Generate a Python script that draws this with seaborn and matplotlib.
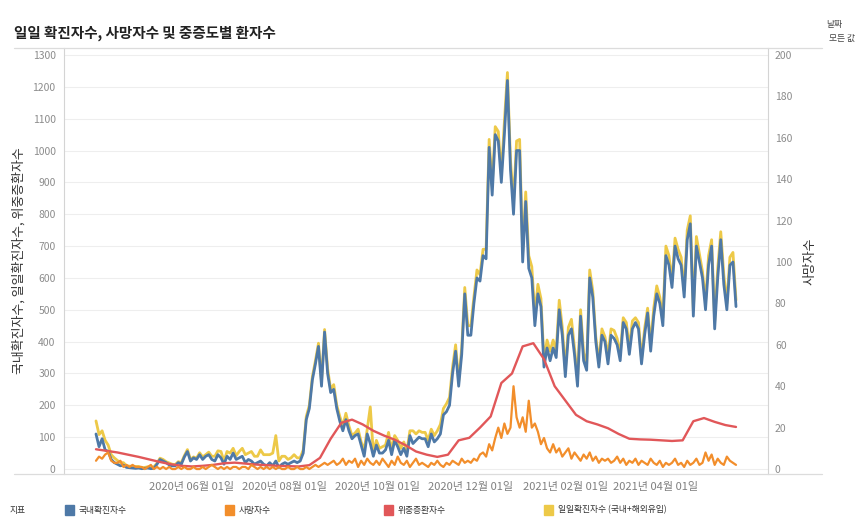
import numpy as np
import pandas as pd
import matplotlib
matplotlib.use("Agg")
import matplotlib.pyplot as plt
from matplotlib.patches import Rectangle
from matplotlib.lines import Line2D
import seaborn as sns

# every second day, 2020-03-30 .. 2021-05-24
domestic = [
    110, 70, 95, 60, 55, 30, 20, 15, 10, 12, 5, 4, 3, 2, 3, 1,               # 2020-04
    2, 3, 1, 2, 15, 30, 25, 20, 13, 10, 10, 20, 15, 38, 55, 25,              # 2020-05
    35, 30, 45, 30, 40, 45, 30, 25, 45, 35, 15, 40, 30, 50, 30,              # 2020-06
    35, 40, 20, 30, 25, 15, 20, 25, 15, 10, 20, 10, 25, 5, 15,               # 2020-07
    20, 15, 20, 25, 20, 25, 50, 155, 190, 280, 330, 385, 260, 430, 300, 240,  # 2020-08
    250, 190, 150, 120, 155, 120, 95, 105, 110, 75, 40, 110, 80, 40, 75,     # 2020-09
    50, 50, 60, 90, 45, 90, 70, 45, 65, 40, 105, 80, 90, 100, 95,            # 2020-10
    95, 70, 110, 85, 95, 110, 170, 180, 200, 300, 370, 260, 360, 550, 420,   # 2020-11
    420, 520, 600, 590, 670, 660, 1010, 860, 1050, 1030, 900, 1050, 1220, 940, 800, 1000,  # 2020-12
    1000, 650, 840, 630, 600, 450, 550, 510, 320, 380, 340, 380, 350, 500, 420,  # 2021-01
    290, 420, 440, 360, 260, 480, 340, 310, 600, 540, 400, 320, 420, 400,    # 2021-02
    330, 420, 410, 390, 340, 460, 440, 360, 440, 460, 440, 330, 420, 490, 370, 480,  # 2021-03
    550, 520, 450, 670, 640, 570, 700, 660, 640, 540, 720, 770, 480, 700, 650,  # 2021-04
    600, 500, 640, 700, 440, 600, 720, 580, 500, 640, 650, 510,              # 2021-05
]
imported = [
    41, 38, 25, 30, 20, 15, 15, 12, 10, 8, 5, 5, 5, 6, 5, 3,
    3, 4, 3, 5, 3, 4, 5, 3, 6, 5, 4, 3, 5, 4, 6, 5,
    3, 4, 6, 8, 5, 8, 10, 15, 12, 20, 10, 15, 20, 15, 12,
    20, 25, 25, 20, 30, 25, 20, 35, 30, 35, 25, 40, 80, 20, 25,
    20, 15, 15, 20, 15, 10, 10, 10, 10, 10, 10, 10, 15, 8, 15, 10,
    15, 10, 15, 15, 20, 15, 10, 8, 15, 10, 20, 15, 115, 10, 15,
    15, 20, 15, 25, 15, 15, 20, 20, 20, 15, 15, 40, 20, 20, 20,
    20, 20, 15, 20, 25, 30, 20, 25, 25, 20, 20, 15, 20, 20, 30,
    30, 20, 25, 20, 20, 30, 25, 30, 25, 30, 25, 40, 25, 30, 40, 30,
    35, 30, 30, 40, 35, 35, 30, 25, 20, 25, 30, 25, 20, 30, 25,
    20, 25, 30, 20, 25, 20, 25, 20, 25, 20, 15, 15, 20, 15,
    25, 20, 25, 20, 20, 15, 20, 20, 25, 15, 20, 15, 20, 15, 20, 25,
    25, 20, 25, 30, 30, 20, 25, 30, 25, 20, 30, 25, 20, 30, 25,
    20, 25, 30, 20, 25, 30, 25, 30, 20, 25, 30, 20,
]
deaths = [
    4, 6, 5, 7, 8, 4, 3, 3, 4, 1, 2, 1, 2, 1, 1, 1,
    0, 1, 2, 0, 1, 0, 1, 0, 1, 0, 0, 1, 0, 1, 0, 0,
    1, 0, 0, 1, 0, 1, 2, 1, 0, 1, 0, 1, 0, 1, 1,
    0, 1, 1, 0, 2, 1, 0, 1, 0, 1, 0, 1, 0, 1, 0,
    0, 1, 0, 0, 1, 0, 0, 1, 0, 1, 2, 1, 2, 3, 2, 3,
    4, 2, 3, 5, 2, 4, 3, 5, 1, 4, 2, 5, 3, 2, 4,
    2, 5, 3, 1, 4, 2, 6, 3, 2, 4, 1, 3, 5, 2, 3,
    2, 1, 3, 2, 4, 2, 1, 3, 2, 4, 3, 2, 5, 3, 4,
    3, 5, 4, 7, 8, 6, 12, 9, 15, 20, 15, 22, 17, 20, 40, 25,
    20, 25, 18, 33, 20, 22, 18, 12, 15, 10, 8, 12, 8, 10, 6,
    8, 10, 5, 8, 6, 4, 7, 5, 8, 4, 6, 3, 5, 4,
    5, 3, 4, 6, 3, 5, 2, 4, 3, 5, 2, 4, 3, 2, 5, 3,
    2, 4, 1, 3, 2, 3, 5, 2, 3, 1, 4, 2, 3, 5, 2,
    3, 8, 4, 7, 2, 5, 3, 2, 6, 4, 3, 2,
]
# weekly, 2020-03-30 .. 2021-05-24
critical = [
    62, 57, 52, 45, 38, 30, 22, 15, 10,
    8, 10, 13, 18, 20, 17, 14, 12, 10,
    9, 8, 12, 35, 95, 145, 155, 140, 120,
    105, 92, 75, 55, 45, 38, 45, 90, 98,
    130, 165, 270, 300, 385, 395, 345, 260,
    215, 170, 150, 140, 128, 110, 95, 93, 92,
    90, 88, 90, 150, 160, 148, 138, 132,
]

tick_dates = ["2020-06-01", "2020-08-01", "2020-10-01", "2020-12-01", "2021-02-01", "2021-04-01"]
series_names = ["국내확진자수", "사망자수", "위중증환자수", "일일확진자수 (국내+해외유입)"]
colors = ["#4e79a7", "#f28e2b", "#e15759", "#edc948"]

days = pd.date_range("2020-03-30", "2021-05-24", freq="2D")
weeks = pd.date_range("2020-03-30", "2021-05-24", freq="7D")
df = pd.DataFrame({"date": days, "domestic": domestic, "imported": imported, "deaths": deaths})
df["total"] = df["domestic"] + df["imported"]
crit = pd.DataFrame({"date": weeks, "critical": critical})

sns.set_style("white")
plt.rcParams["font.family"] = ["Noto Sans CJK KR", "DejaVu Sans"]

W, H = 860, 532
fig = plt.figure(figsize=(W / 100, H / 100), dpi=100)
L, R, T, B = 64, 768, 48, 474
ax = fig.add_axes([L / W, 1 - B / H, (R - L) / W, (B - T) / H])

sns.lineplot(data=df, x="date", y="total", color=colors[3], lw=2.0, ax=ax, estimator=None)
sns.lineplot(data=df, x="date", y="domestic", color=colors[0], lw=2.0, ax=ax, estimator=None)
sns.lineplot(data=crit, x="date", y="critical", color=colors[2], lw=1.7, ax=ax, estimator=None)
ax2 = ax.twinx()
sns.lineplot(data=df, x="date", y="deaths", color=colors[1], lw=1.6, ax=ax2, estimator=None)

ax.set_xlim(pd.Timestamp("2020-03-09"), pd.Timestamp("2021-06-14"))
ax.set_ylim(-15.7, 1322)
ax2.set_ylim(-2.4, 203.4)
ax.set_yticks(range(0, 1301, 100))
ax2.set_yticks(range(0, 201, 20))

tks = pd.to_datetime(tick_dates)
ax.set_xticks(tks)
ax.set_xticklabels([d.strftime("%Y년 %m월 %d일") for d in tks])

ax.yaxis.grid(True, color="#eeeeee", lw=0.8)
ax.xaxis.grid(False)
ax.tick_params(axis="y", length=0, labelsize=7.5, labelcolor="#8c8c8c", pad=6)
ax.tick_params(axis="x", length=0, labelsize=8, labelcolor="#808080", pad=6)
ax2.tick_params(axis="y", length=0, labelsize=7.5, labelcolor="#8c8c8c", pad=5)

for a in (ax, ax2):
    for s in a.spines.values():
        s.set_visible(False)
ax.spines["left"].set_visible(True)
ax.spines["left"].set_color("#d4d4d4")
ax2.spines["right"].set_visible(True)
ax2.spines["right"].set_color("#d4d4d4")

ax.set_xlabel("")
ax.set_ylabel("국내확진자수, 일일확진자수, 위중증환자수", fontsize=9.3, color="#333333")
ax.yaxis.set_label_coords((26 - L) / (R - L), 0.5)
ax2.set_ylabel("사망자수", fontsize=9.3, color="#333333", rotation=90)
ax2.yaxis.set_label_coords((804 - L) / (R - L), 0.5)

# pane borders
fig.add_artist(Line2D([14 / W, 822 / W], [1 - T / H] * 2, color="#dcdcdc", lw=0.9))
fig.add_artist(Line2D([14 / W, 822 / W], [1 - B / H] * 2, color="#dcdcdc", lw=0.9))

fig.text(14 / W, 1 - 33 / H, "일일 확진자수, 사망자수 및 중증도별 환자수",
         fontsize=10.5, fontweight="bold", color="#222222", va="center")
fig.text(826 / W, 1 - 24 / H, "날짜", fontsize=6.3, color="#444444", va="center")
fig.text(829 / W, 1 - 38 / H, "모든 값", fontsize=6.3, color="#444444", va="center")

# legend
fig.text(10 / W, 1 - 510 / H, "지표", fontsize=6.3, color="#333333", va="center")
leg_x = [65, 225, 384, 544]
for x, name, c in zip(leg_x, series_names, colors):
    fig.add_artist(Rectangle((x / W, 1 - 515 / H), 9 / W, 10 / H, color=c, transform=fig.transFigure))
    fig.text((x + 14) / W, 1 - 510 / H, name, fontsize=6.3, color="#333333", va="center")

fig.savefig("out.png", dpi=100)
